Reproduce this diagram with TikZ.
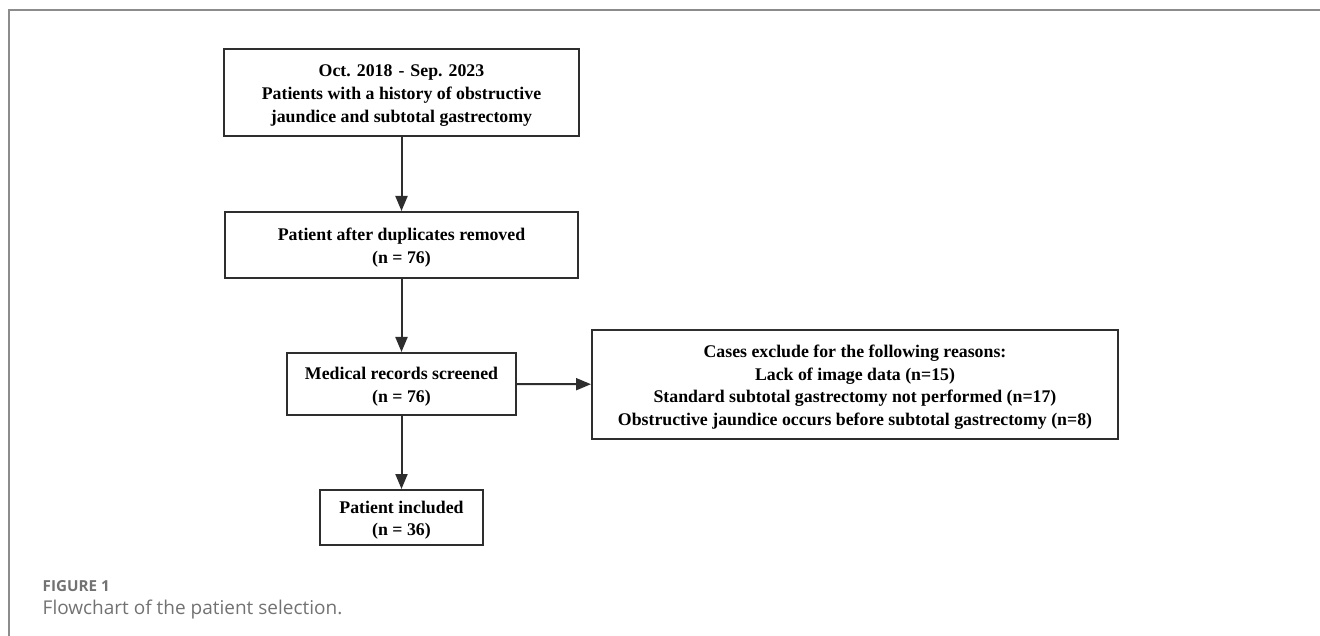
\documentclass[tikz,border=0pt]{standalone}
\usepackage{fontspec}
\setmainfont{Liberation Serif}
\newfontfamily\capfont{Open Sans}
\usetikzlibrary{arrows.meta}
\definecolor{ink}{HTML}{2E2E2E}
\definecolor{framegray}{HTML}{8C8C8C}
\definecolor{capgray}{HTML}{727272}
\newcommand\boxlines[1]{\raisebox{-2.5pt}[\height][\depth]{\begin{tabular}{@{}c@{}}#1\end{tabular}}}
\newcommand\wsp{\hspace{0.34em}}
\tikzset{
  flowbox/.style={draw=ink, line width=2pt, inner sep=0pt,
    font=\fontsize{17.8}{22.6}\selectfont\bfseries, text=black},
  flowarrow/.style={draw=ink, line width=2pt, -{Triangle[length=15pt,width=12pt]}},
}
\begin{document}
\begin{tikzpicture}[x=1pt,y=-1pt]
\useasboundingbox (0,0) rectangle (1320,636);
% frame
\draw[framegray, line width=1.6pt] (9,636) -- (9,10) -- (1320,10);
% boxes
\node[flowbox, minimum width=355pt, minimum height=87pt] (top) at (401.5,92.5)
  {\boxlines{Oct.\wsp 2018\wsp -\wsp Sep.\wsp 2023\\Patients with a history of obstructive\\jaundice and subtotal gastrectomy}};
\node[flowbox, minimum width=353pt, minimum height=66pt] (dup) at (401.5,245)
  {\boxlines{Patient after duplicates removed\\(n = 76)}};
\node[flowbox, minimum width=229pt, minimum height=62pt] (med) at (401.5,384)
  {\boxlines{Medical records screened\\(n = 76)}};
\node[flowbox, minimum width=163pt, minimum height=55pt] (inc) at (401.5,517.5)
  {\boxlines{Patient included\\(n = 36)}};
\node[flowbox, minimum width=526pt, minimum height=109pt] (exc) at (855,384.5)
  {\boxlines{Cases exclude for the following reasons:\\Lack of image data (n=15)\\Standard subtotal gastrectomy not performed (n=17)\\Obstructive jaundice occurs before subtotal gastrectomy (n=8)}};
% arrows
\draw[flowarrow] (top) -- (dup);
\draw[flowarrow] (dup) -- (med);
\draw[flowarrow] (med) -- (inc);
\draw[flowarrow] (med) -- (exc);
% caption
\node[anchor=base west, inner sep=0pt, text=capgray, font=\capfont\fontsize{15.2}{18}\selectfont\bfseries] (figlabel) at (42.5,591) {FIGURE 1};
\node[anchor=base west, inner sep=0pt, text=capgray, font=\capfont\fontsize{19}{22}\selectfont] (figcap) at (42.5,614) {Flowchart of the patient selection.};
\end{tikzpicture}
\end{document}
